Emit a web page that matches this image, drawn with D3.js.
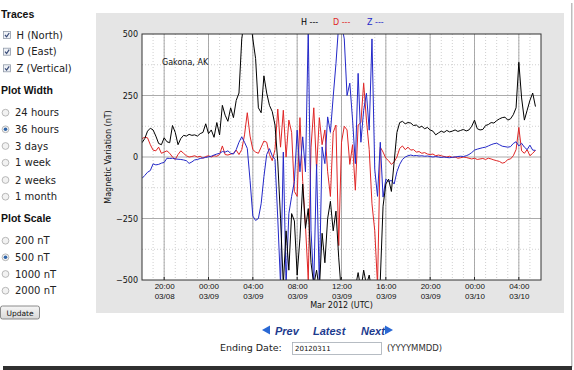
<!DOCTYPE html>
<html>
<head>
<meta charset="utf-8">
<script src="https://cdn.jsdelivr.net/npm/d3@7"></script>
<style>
body { margin: 0; background: #fff; }
svg { display: block; }
</style>
</head>
<body>
<div id="page"></div>
<script>
// magnetometer readings, every 15 min from 2012-03-08 18:00 UTC (nT)
var hValues = [
    58, 75, 105, 117, 110, 85, 55, 50,
    78, 62, 58, 128, 100, 50, 75, 88,
    85, 92, 88, 90, 85, 95, 100, 135,
    95, 110, 80, 140, 90, 210, 170, 145,
    200, 160, 230, 260, 480, 560, 600, 580,
    480, 400, 200, 180, 330, 260, 210, 185,
    130, -20, -250, -520, -300, -460, -230, -260,
    -480, -330, -110, -290, -210, -430, -520, -460,
    -540, -310, -430, -250, -180, -300, -220, -410,
    -560, -600, -580, -600, -560, -530, -470, -540,
    -460, -520, -480, -550, -600, -580, -500, -200,
    -110, -90, -140, -20, 100, 140, 145, 135,
    140, 138, 128, 130, 120, 125, 115, 120,
    110, 105, 90, 98, 105, 100, 108, 102,
    105, 110, 104, 108, 112, 106, 110, 125,
    150, 115, 110, 112, 128, 132, 140, 138,
    148, 155, 160, 162, 150, 155, 172, 200,
    385, 240, 150, 190, 230, 260, 205
];
var dValues = [
    75, 80, 78, 50, 28, 25, 40, 15,
    20, 25, 15, 0, -10, 10, 25, 15,
    5, 0, 2, 5, 0, 3, -5, 2,
    5, 0, 5, 3, 10, 45, 10, 8,
    12, 15, 28, 10, 30, 90, 180, 85,
    30, 20, 15, 40, 65, 60, 10, -15,
    30, 195, 40, 190, 0, 150, 100, -140,
    -160, 160, -100, -280, -500, 40, 200, -50,
    160, 50, 110, -60, -160, 100, 130, -360,
    60, 125, 110, -30, 50, -135, 130, 140,
    300, 150, 30, -190, -300, -520, 40, 20,
    -5, -15, -30, -20, 0, 35, 45, 30,
    40, 28, 30, 20, 22, 15, 18, 12,
    10, 12, 5, 8, 5, 2, 0, 3,
    -2, 0, -5, -3, 0, -2, -5, -8,
    -5, -10, -8, -6, -10, -5, -8, -12,
    -15, -18, -25, -22, -10, -8, 5, 30,
    120, 25, 15, 30, 5, 15, 27
];
var zValues = [
    -87, -75, -62, -55, -28, -32, -30, -25,
    -22, -5, -6, -5, -8, -9, -10, -12,
    -15, -26, -20, -12, -10, -6, -4, -2,
    1, 3, 8, 12, 15, 22, 20, 25,
    15, 12, 30, 60, 82, 60, 35, -95,
    -240, -258, -250, -190, -80, 10, 34, 5,
    -10, -250, -520, 20, -520, -230, -160, -100,
    109, -60, 82, -60, 520, -300, -520, -30,
    -520, 41, -27, 163, 100, 245, 380, 540,
    540, 480, 250, 300, 150, -27, 340, 60,
    190, 259, 109, 480, -50, -160, 60, -163,
    -90, -100, -95, -110, -60, -30, -10, 0,
    5, 8, 5, 6, 4, 5, 3, 4,
    2, 0, 2, 0, -2, 0, -2, -3,
    -1, 0, 2, 3, 2, 5, 10, 18,
    28, 32, 35, 38, 40, 45, 50, 54,
    56, 50, 44, 42, 40, 42, 55, 62,
    45, 56, 40, 30, 48, 28, 27
];

var traceNames = ["H (North)", "D (East)", "Z (Vertical)"];
var widthOptions = ["24 hours", "36 hours", "3 days", "1 week", "2 weeks", "1 month"];
var scaleOptions = ["200 nT", "500 nT", "1000 nT", "2000 nT"];
var yTickValues = [-500, -250, 0, 250, 500];

var startTime = Date.UTC(2012, 2, 8, 18);
var endTime = Date.UTC(2012, 2, 10, 6);
var step = 15 * 60 * 1000;

var svgWidth = 574;
var svgHeight = 370;

var margin = { top: 34, left: 142 };
var width = 399;
var height = 246;

var svg = d3.select("#page")
    .append("svg")
    .attr("width", svgWidth)
    .attr("height", svgHeight)
    .style("font-family", "'DejaVu Sans', sans-serif");

// screenshot frame shadow
svg.append("rect").attr("x", 571).attr("y", 3).attr("width", 1.5).attr("height", 364).attr("fill", "#bdbdbd");
svg.append("rect").attr("x", 3).attr("y", 366).attr("width", 569).attr("height", 4).attr("fill", "#303030");

// ---------- left form ----------
var form = svg.append("g");

function header(label, y) {
    form.append("text")
        .attr("x", 1).attr("y", y)
        .style("font-family", "'Liberation Sans', Arial, sans-serif")
        .style("font-weight", "bold")
        .style("font-size", "10.5px")
        .attr("fill", "#111")
        .text(label);
}

header("Traces", 18);
header("Plot Width", 94);
header("Plot Scale", 222);

var checkY = [35, 51.7, 68.3];
traceNames.forEach(function (name, i) {
    var cy = checkY[i];
    form.append("rect")
        .attr("x", 3.5).attr("y", cy - 3.5)
        .attr("width", 7).attr("height", 7)
        .attr("fill", "#eef1f6").attr("stroke", "#8f9aa8").attr("stroke-width", 0.8);
    form.append("path")
        .attr("d", `M5,${cy} L6.6,${cy + 1.8} L9.2,${cy - 2}`)
        .attr("fill", "none").attr("stroke", "#3b4c78").attr("stroke-width", 1.2);
    form.append("text")
        .attr("x", 16.5).attr("y", cy + 3.7)
        .style("font-size", "10px").attr("fill", "#222")
        .text(name);
});

function radioList(options, ys, selected) {
    options.forEach(function (opt, i) {
        var cy = ys[i];
        form.append("circle")
            .attr("cx", 5.5).attr("cy", cy).attr("r", 3.4)
            .attr("fill", "#f2f2f2").attr("stroke", "#a8a8a8").attr("stroke-width", 0.8);
        if (i === selected) {
            form.append("circle")
                .attr("cx", 5.5).attr("cy", cy).attr("r", 1.8)
                .attr("fill", "#2f64a8");
        }
        form.append("text")
            .attr("x", 15).attr("y", cy + 3.7)
            .style("font-size", "10px").attr("fill", "#222")
            .text(opt);
    });
}

radioList(widthOptions, [112.7, 129.3, 146, 162.7, 180, 196.7], 1);
radioList(scaleOptions, [240.7, 257.3, 274, 290.7], 1);

var grad = svg.append("defs").append("linearGradient")
    .attr("id", "btn").attr("x1", 0).attr("y1", 0).attr("x2", 0).attr("y2", 1);
grad.append("stop").attr("offset", "0%").attr("stop-color", "#f6f6f6");
grad.append("stop").attr("offset", "100%").attr("stop-color", "#d8d8d8");

form.append("rect")
    .attr("x", 0.5).attr("y", 306).attr("width", 39).attr("height", 13).attr("rx", 2)
    .attr("fill", "url(#btn)").attr("stroke", "#707070").attr("stroke-width", 0.8);
form.append("text")
    .attr("x", 20).attr("y", 315.5).attr("text-anchor", "middle")
    .style("font-size", "7.5px").attr("fill", "#111")
    .text("Update");

// ---------- chart panel ----------
svg.append("rect")
    .attr("x", 96).attr("y", 13).attr("width", 468).attr("height", 300)
    .attr("fill", "#e5e5e5");

var chartGroup = svg.append("g")
    .attr("transform", `translate(${margin.left}, ${margin.top})`);

chartGroup.append("rect")
    .attr("width", width).attr("height", height).attr("fill", "#fff");

var xTimeScale = d3.scaleUtc()
    .domain([new Date(startTime), new Date(endTime)])
    .range([0, width]);

var yLinearScale = d3.scaleLinear()
    .domain([-500, 500])
    .range([height, 0]);

// minor grid
chartGroup.append("g")
    .selectAll("line")
    .data(d3.utcHour.every(1).range(new Date(startTime + 1), new Date(endTime)))
    .enter()
    .append("line")
    .attr("x1", d => xTimeScale(d)).attr("x2", d => xTimeScale(d))
    .attr("y1", 0).attr("y2", height)
    .attr("stroke", "#c4c4c4").attr("stroke-width", 0.8).attr("stroke-dasharray", "1,2");

chartGroup.append("g")
    .selectAll("line")
    .data([-375, -125, 125, 375])
    .enter()
    .append("line")
    .attr("x1", 0).attr("x2", width)
    .attr("y1", d => yLinearScale(d)).attr("y2", d => yLinearScale(d))
    .attr("stroke", "#c4c4c4").attr("stroke-width", 0.8).attr("stroke-dasharray", "1,2");

// major grid
var majorTicks = d3.utcHour.every(4).range(new Date(startTime + 1), new Date(endTime));

chartGroup.append("g")
    .selectAll("line")
    .data(majorTicks)
    .enter()
    .append("line")
    .attr("x1", d => xTimeScale(d)).attr("x2", d => xTimeScale(d))
    .attr("y1", 0).attr("y2", height)
    .attr("stroke", "#a2a2a2").attr("stroke-width", 0.9);

chartGroup.append("g")
    .selectAll("line")
    .data([-250, 0, 250])
    .enter()
    .append("line")
    .attr("x1", 0).attr("x2", width)
    .attr("y1", d => yLinearScale(d)).attr("y2", d => yLinearScale(d))
    .attr("stroke", "#a2a2a2").attr("stroke-width", 0.9);

// traces
chartGroup.append("clipPath").attr("id", "plotClip")
    .append("rect").attr("width", width).attr("height", height);

function toPoints(values) {
    return values.map((v, i) => ({ t: new Date(startTime + i * step), v: v }));
}

var traceLine = d3.line()
    .x(d => xTimeScale(d.t))
    .y(d => yLinearScale(d.v));

var traces = [
    { values: dValues, color: "#e02626" },
    { values: zValues, color: "#2328c8" },
    { values: hValues, color: "#000000" }
];

var traceGroup = chartGroup.append("g").attr("clip-path", "url(#plotClip)");
traces.forEach(function (tr) {
    traceGroup.append("path")
        .datum(toPoints(tr.values))
        .attr("d", traceLine)
        .attr("fill", "none")
        .attr("stroke", tr.color)
        .attr("stroke-width", 1)
        .attr("stroke-linejoin", "round");
});

// axes
var leftAxis = d3.axisLeft(yLinearScale)
    .tickValues(yTickValues)
    .tickSize(0)
    .tickPadding(4)
    .tickFormat(d3.format("d"));

var yAxis = chartGroup.append("g").call(leftAxis);
yAxis.select(".domain").remove();
yAxis.selectAll("text")
    .style("font-size", "8px")
    .style("font-family", "'DejaVu Sans', sans-serif")
    .attr("fill", "#111");

var bottomAxis = d3.axisBottom(xTimeScale)
    .tickValues(majorTicks)
    .tickSize(0)
    .tickFormat("");

var xAxis = chartGroup.append("g")
    .attr("transform", `translate(0, ${height})`)
    .call(bottomAxis);
xAxis.select(".domain").remove();

var timeFmt = d3.utcFormat("%H:%M");
var dayFmt = d3.utcFormat("%m/%d");
xAxis.selectAll(".tick").each(function (d) {
    var tick = d3.select(this);
    tick.append("text").attr("y", 9).attr("text-anchor", "middle")
        .style("font-size", "8px").attr("fill", "#111").text(timeFmt(d));
    tick.append("text").attr("y", 19).attr("text-anchor", "middle")
        .style("font-size", "8px").attr("fill", "#111").text(dayFmt(d));
});

// small inward ticks like the original plot
chartGroup.append("g")
    .selectAll("line")
    .data(majorTicks)
    .enter()
    .append("line")
    .attr("x1", d => xTimeScale(d)).attr("x2", d => xTimeScale(d))
    .attr("y1", height).attr("y2", height - 3)
    .attr("stroke", "#222");

chartGroup.append("rect")
    .attr("width", width).attr("height", height)
    .attr("fill", "none").attr("stroke", "#333").attr("stroke-width", 1);

// labels
chartGroup.append("text")
    .attr("x", width / 2).attr("y", height + 28)
    .attr("text-anchor", "middle")
    .style("font-size", "8px").attr("fill", "#111")
    .text("Mar 2012 (UTC)");

chartGroup.append("text")
    .attr("transform", "rotate(-90)")
    .attr("x", -height / 2).attr("y", -31)
    .attr("text-anchor", "middle")
    .style("font-size", "8px").attr("fill", "#111")
    .text("Magnetic Variation (nT)");

chartGroup.append("text")
    .attr("x", 20).attr("y", 31)
    .style("font-size", "8px").attr("fill", "#111")
    .text("Gakona, AK");

var legendItems = [
    { label: "H ---", color: "#000", x: 301 },
    { label: "D ---", color: "#e02626", x: 333 },
    { label: "Z ---", color: "#2328c8", x: 367 }
];
svg.append("g")
    .selectAll("text")
    .data(legendItems)
    .enter()
    .append("text")
    .attr("x", d => d.x).attr("y", 24.5)
    .style("font-size", "8px")
    .attr("fill", d => d.color)
    .text(d => d.label);

// ---------- navigation ----------
var nav = svg.append("g")
    .style("font-family", "'Liberation Sans', Arial, sans-serif")
    .style("font-weight", "bold")
    .style("font-style", "italic")
    .style("font-size", "11px")
    .attr("fill", "#1d3b8e");

nav.append("path").attr("d", "M262,330 L270,325.5 L270,334.5 Z").attr("fill", "#2a68d4");
nav.append("text").attr("x", 275).attr("y", 334.5).text("Prev");
nav.append("text").attr("x", 313).attr("y", 334.5).text("Latest");
nav.append("text").attr("x", 361).attr("y", 334.5).text("Next");
nav.append("path").attr("d", "M393,330 L385,325.5 L385,334.5 Z").attr("fill", "#2a68d4");

svg.append("text")
    .attr("x", 220).attr("y", 351)
    .style("font-size", "9.5px").attr("fill", "#222")
    .text("Ending Date:");

svg.append("rect")
    .attr("x", 292.5).attr("y", 342.5).attr("width", 89).attr("height", 12)
    .attr("fill", "#fff").attr("stroke", "#a5acb5").attr("stroke-width", 0.8);
svg.append("text")
    .attr("x", 295).attr("y", 351.3)
    .style("font-size", "7px").attr("fill", "#111")
    .text("20120311");

svg.append("text")
    .attr("x", 387).attr("y", 351)
    .style("font-size", "8.5px").attr("fill", "#333")
    .text("(YYYYMMDD)");
</script>
</body>
</html>
